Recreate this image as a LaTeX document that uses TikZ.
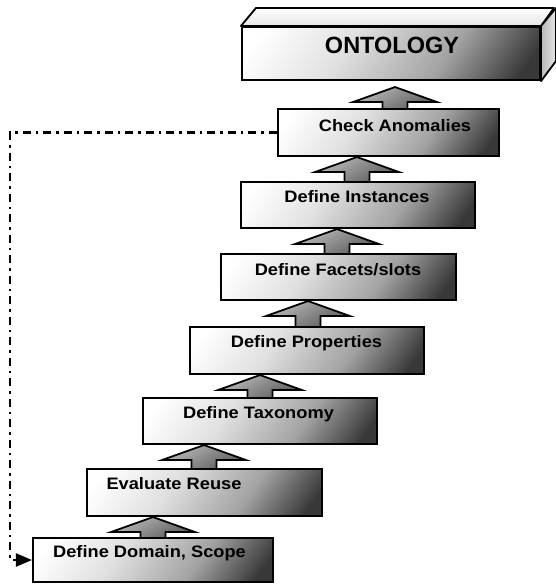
\documentclass[tikz,border=0pt]{standalone}
\usepackage{fontspec}
\newfontfamily\labfont[FakeStretch=1.1]{Liberation Sans}
\newfontfamily\ontfont{Liberation Sans}
\usetikzlibrary{arrows.meta,calc}
\pgfdeclarehorizontalshading{boxsh}{100bp}{color(0bp)=(white); color(20bp)=(white); color(40bp)=(black!12); color(62bp)=(black!36); color(80bp)=(black!78); color(100bp)=(black!78)}
\pgfdeclarehorizontalshading{arrsh}{100bp}{color(0bp)=(black!22); color(20bp)=(black!22); color(45bp)=(black!42); color(80bp)=(black!68); color(100bp)=(black!68)}
\pgfdeclarehorizontalshading{sidesh}{100bp}{color(0bp)=(black!28); color(25bp)=(black!28); color(75bp)=(black!10); color(100bp)=(black!10)}
\newcommand\blockarr[4]{%
  \path[barrow] let \p1=(#1.north), \p2=(#2.south) in
    ({#3pt-12.5pt},{\y1-1pt}) -- ({#3pt-12.5pt},{\y2-#4pt-15pt}) --
    ({#3pt-42pt},{\y2-#4pt-15pt}) -- ({#3pt},{\y2-#4pt}) --
    ({#3pt+42pt},{\y2-#4pt-15pt}) -- ({#3pt+12.5pt},{\y2-#4pt-15pt}) --
    ({#3pt+12.5pt},{\y1-1pt}) -- cycle;}
\begin{document}
\begin{tikzpicture}[x=1pt,y=-1pt,
  box/.style={draw=black, line width=2.1pt, rectangle, inner sep=0pt,
    shading=boxsh, shading angle=-35},
  barrow/.style={draw=black, line width=1.8pt, line join=miter,
    shading=arrsh, shading angle=-60},
  face/.style={draw=black, line width=1.8pt, line join=round},
  lab/.style={font=\labfont\bfseries\fontsize{16.6}{18}\selectfont, inner sep=0pt, anchor=base},
  dd/.style={line width=2.4pt, dash pattern=on 8pt off 5pt on 2.5pt off 5pt}]
\useasboundingbox (0,0) rectangle (555,584);
% ontology 3D box
\node[box, minimum width=298pt, minimum height=53pt] (ont) at (391,53.5) {};
\path[face, top color=white, bottom color=black!10, shading angle=0]
  (ont.north west) -- ++(15,-18) -- ++(298,0) -- (ont.north east) -- cycle;
\path[face, shading=sidesh]
  (ont.north east) -- ++(15,-18) -- ++(0,53) -- (ont.south east) -- cycle;
% step boxes
\node[box, minimum width=221pt, minimum height=47pt] (chk) at (388.5,132.5) {};
\node[box, minimum width=234pt, minimum height=46pt] (inst) at (358,205) {};
\node[box, minimum width=235pt, minimum height=46pt] (fac) at (338.5,277) {};
\node[box, minimum width=234pt, minimum height=47pt] (prop) at (307,350.5) {};
\node[box, minimum width=234pt, minimum height=46pt] (tax) at (260,421) {};
\node[box, minimum width=235pt, minimum height=47pt] (eval) at (204.5,492.5) {};
\node[box, minimum width=240pt, minimum height=44pt] (dom) at (153,560) {};
% block arrows
\blockarr{dom}{eval}{153}{0}
\blockarr{eval}{tax}{204}{0}
\blockarr{tax}{prop}{260}{0}
\blockarr{prop}{fac}{308}{0}
\blockarr{fac}{inst}{337}{0}
\blockarr{inst}{chk}{357}{0}
\blockarr{chk}{ont}{395}{6}
% labels
\node[font=\ontfont\bfseries\fontsize{23.5}{26}\selectfont, inner sep=0pt, anchor=base] (lont) at (392,53) {ONTOLOGY};
\node[lab] (lchk) at (395,131) {Check Anomalies};
\node[lab] (linst) at (357,202) {Define Instances};
\node[lab] (lfac) at (338,275) {Define Facets/slots};
\node[lab] (lprop) at (306.5,347) {Define Properties};
\node[lab] (ltax) at (258.5,418) {Define Taxonomy};
\node[lab] (leval) at (174,489) {Evaluate Reuse};
\node[lab] (ldom) at (149.5,557) {Define Domain, Scope};
% feedback connector
\coordinate (lx) at (10,0);
\draw[dd, -{Triangle[length=16pt,width=13pt]}] (chk.west) -- (chk.west -| lx) |- (dom.west);
\end{tikzpicture}
\end{document}
